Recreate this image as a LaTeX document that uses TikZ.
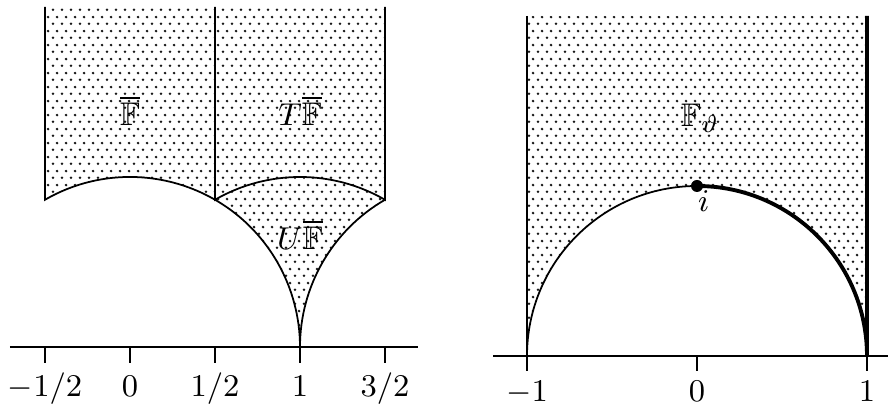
\documentclass[tikz,border=0pt]{standalone}
\usepackage{amssymb}
\usetikzlibrary{patterns}
\pgfdeclarepatternformonly{fdots}{\pgfpointorigin}{\pgfpoint{2.42pt}{4pt}}{\pgfpoint{2.42pt}{4pt}}{%
  \pgfpathcircle{\pgfpoint{0.6pt}{1pt}}{0.42pt}%
  \pgfpathcircle{\pgfpoint{1.81pt}{3pt}}{0.42pt}%
  \pgfusepath{fill}}

\begin{document}
\begin{tikzpicture}[font=\fontsize{9.3}{11}\selectfont]
		% styles
		\tikzset{
			region/.style={pattern=fdots, pattern color=black!90},
			edge/.style={line width=0.5pt},
			thickedge/.style={line width=1.1pt},
			tickmark/.style={line width=0.5pt},
			ticklabel/.style={anchor=base, inner sep=0pt},
			lbl/.style={inner sep=1pt}
		}
		\useasboundingbox (0,0) rectangle (8.88,4.05);

		% left panel: F, TF, UF
		\begin{scope}[shift={(1.30,0.58)}, scale=1.7]
			\fill[region] (-0.5,2) -- (-0.5,0.866) arc[start angle=120, end angle=60, radius=1] -- (0.5,2) -- cycle;
			\fill[region] (0.5,2) -- (0.5,0.866) arc[start angle=120, end angle=60, radius=1] -- (1.5,2) -- cycle;
			\fill[region] (0.5,0.866) arc[start angle=120, end angle=60, radius=1]
				arc[start angle=120, end angle=180, radius=1]
				arc[start angle=0, end angle=60, radius=1] -- cycle;

			\draw[edge] (-0.5,2) -- (-0.5,0.866) arc[start angle=120, end angle=0, radius=1];
			\draw[edge] (0.5,2) -- (0.5,0.866) arc[start angle=120, end angle=60, radius=1] -- (1.5,2);
			\draw[edge] (1.5,0.866) arc[start angle=120, end angle=180, radius=1];

			% axis
			\draw[edge] (-0.706,0) -- (1.694,0);
			\foreach \x/\t [count=\k] in {-0.5/{$-1/2$}, 0/{$0$}, 0.5/{$1/2$}, 1/{$1$}, 1.5/{$3/2$}} {
				\draw[tickmark] (\x,0) -- (\x,-0.094);
				\node[ticklabel] (lt\k) at (\x,-0.294) {\t};
			}

			% labels
			\node[lbl] (fbar) at (0,1.39) {$\overline{\mathbb{F}}$};
			\node[lbl] (tfbar) at (1,1.39) {$T\overline{\mathbb{F}}$};
			\node[lbl] (ufbar) at (1,0.66) {$U\overline{\mathbb{F}}$};
		\end{scope}

		% right panel: F_theta
		\begin{scope}[shift={(6.97,0.49)}, scale=1.7]
			\fill[region] (-1,2) -- (-1,0) arc[start angle=180, end angle=0, radius=1] -- (1,2) -- cycle;

			\draw[edge] (-1,2) -- (-1,0);
			\draw[edge] (-1,0) arc[start angle=180, end angle=90, radius=1];
			\draw[thickedge] (0,1) arc[start angle=90, end angle=0, radius=1] -- (1,2);

			% axis
			\draw[edge] (-1.2,0) -- (1.13,0);
			\foreach \x/\t [count=\k] in {-1/{$-1$}, 0/{$0$}, 1/{$1$}} {
				\draw[tickmark] (\x,0) -- (\x,-0.09);
				\node[ticklabel] (rt\k) at (\x,-0.265) {\t};
			}

			% point i and labels
			\node[circle, fill, inner sep=0pt, minimum size=0.12cm] (ipt) at (0,1) {};
			\node[lbl] (ilbl) at (0.04,0.91) {$i$};
			\node[lbl] (ftheta) at (0.02,1.40) {$\mathbb{F}_\vartheta$};
		\end{scope}
\end{tikzpicture}
\end{document}
